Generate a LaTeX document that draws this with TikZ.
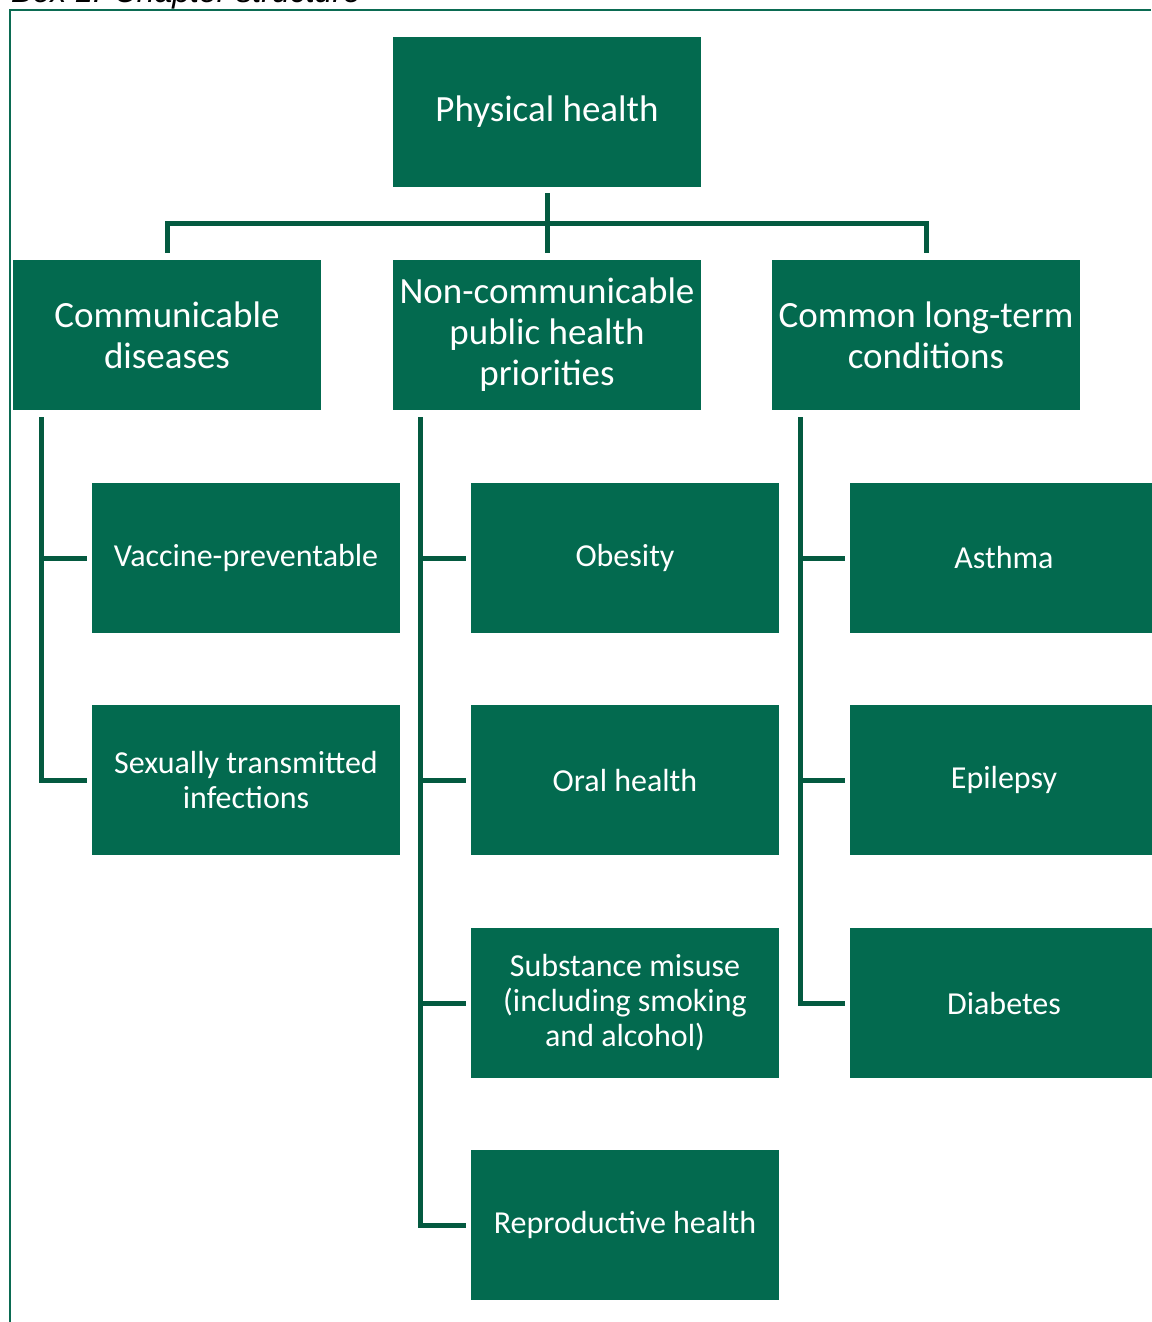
\documentclass[tikz,border=0pt]{standalone}
\usepackage{fontspec}
\setmainfont{Carlito}
\newfontfamily\boxtitlefont{Liberation Sans}
\usetikzlibrary{calc}
\definecolor{ChartFill}{HTML}{036A4F}
\definecolor{ChartLine}{HTML}{045A40}
\definecolor{ChartFrame}{HTML}{0B6B52}
\tikzset{
  chart/box/.style={
    fill=ChartFill, draw=none, text=white,
    minimum width=308pt, minimum height=150pt, inner sep=1pt, align=center
  },
  chart/big/.style={chart/box, font=\fontsize{37}{41}\selectfont},
  chart/small/.style={chart/box, font=\fontsize{32}{35}\selectfont},
  chart/link/.style={draw=ChartLine, line width=5pt},
  chart/frame/.style={draw=ChartFrame, line width=2pt}
}

\begin{document}
\begin{tikzpicture}[x=1pt,y=-1pt]
  \useasboundingbox (0,0) rectangle (1151,1322);
  % caption and frame
  \node[anchor=base west,inner sep=0pt,font=\boxtitlefont\itshape\fontsize{32}{36}\selectfont]
    (title) at (11,3) {Box 1: Chapter structure};
  \draw[chart/frame] (10,1322) -- (10,10) -- (1151,10);
  % top and second level
  \node[chart/big] (phys) at (547,112) {Physical health};
  \node[chart/big] (comm) at (167,335) {Communicable\\diseases};
  \node[chart/big] (ncd) at (547,335) {Non-communicable\\public health\\priorities};
  \node[chart/big] (ltc) at (926,335) {Common long-term\\conditions};
  % third level
  \node[chart/small] (vac) at (246,558) {Vaccine-preventable};
  \node[chart/small] (sti) at (246,780) {Sexually transmitted\\infections};
  \node[chart/small] (obes) at (625,558) {Obesity};
  \node[chart/small] (oral) at (625,780) {Oral health};
  \node[chart/small] (subs) at (625,1003) {Substance misuse\\(including smoking\\and alcohol)};
  \node[chart/small] (repr) at (625,1225) {Reproductive health};
  \node[chart/small] (asth) at (1004,558) {Asthma};
  \node[chart/small] (epil) at (1004,780) {Epilepsy};
  \node[chart/small] (diab) at (1004,1003) {Diabetes};
  % connectors
  \draw[chart/link] ($(phys.south)+(0,6)$) -- ($(ncd.north)+(0,-7)$);
  \draw[chart/link] ($(comm.north)+(0,-7)$) |- ($(ncd.north)+(0,-36)$)
    -| ($(ltc.north)+(0,-7)$);
  \foreach \child in {vac,sti}
    \draw[chart/link] ($(comm.south west)+(29,7)$) |- ($(\child.west)+(-5,0)$);
  \foreach \child in {obes,oral,subs,repr}
    \draw[chart/link] ($(ncd.south west)+(28,7)$) |- ($(\child.west)+(-5,0)$);
  \foreach \child in {asth,epil,diab}
    \draw[chart/link] ($(ltc.south west)+(29,7)$) |- ($(\child.west)+(-5,0)$);
\end{tikzpicture}
\end{document}
